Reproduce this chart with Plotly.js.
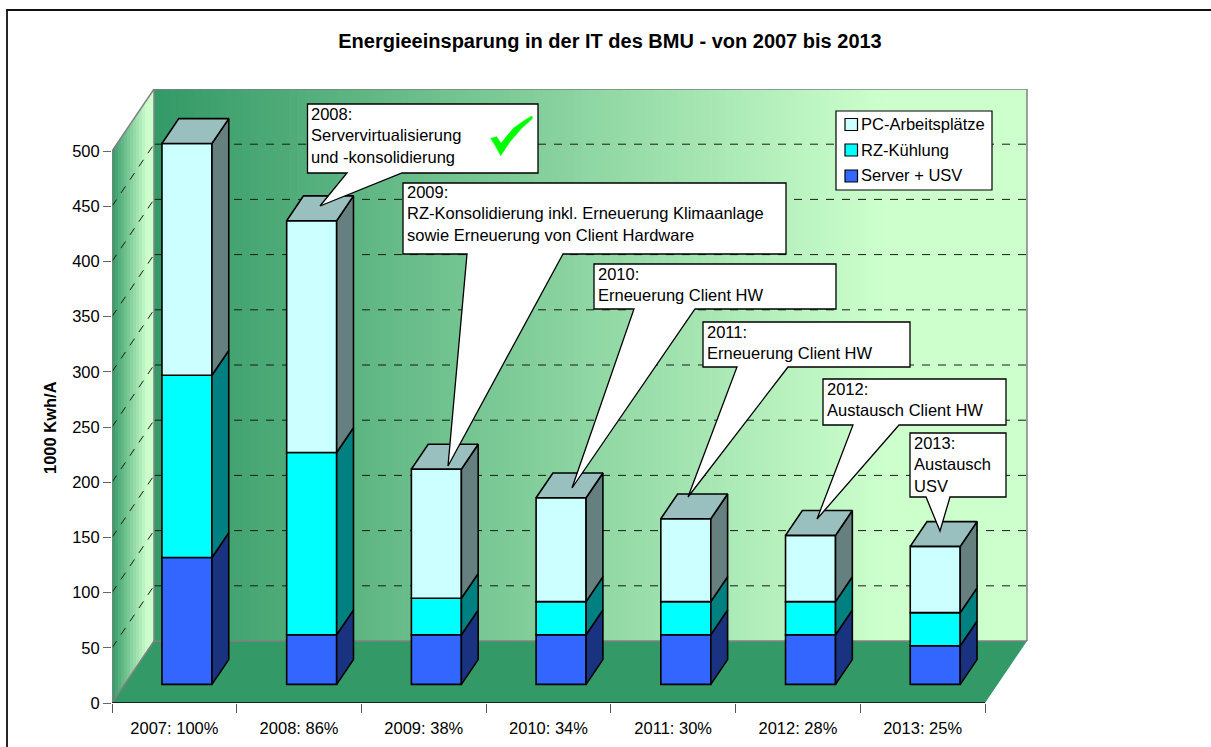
<!DOCTYPE html>
<html><head><meta charset="utf-8">
<script src="https://cdn.plot.ly/plotly-3.0.0.min.js"></script>
<style>html,body{margin:0;padding:0;background:#fff}#chart{width:1211px;height:747px}</style>
</head><body><div id="chart"></div>
<script>
const categories = ['2007: 100%','2008: 86%','2009: 38%','2010: 34%','2011: 30%','2012: 28%','2013: 25%'];
const serverValues = [115, 45, 45, 45, 45, 45, 35];
const kuehlungValues = [165, 165, 33, 30, 30, 30, 30];
const pcValues = [210, 210, 117, 94, 75, 60, 60];
const yTicks = [0,50,100,150,200,250,300,350,400,450,500];
const seriesNames = ['Server + USV','RZ-Kühlung','PC-Arbeitsplätze'];
const frontColors = ['#3366FF','#00FFFF','#CCFFFF'];
const sideColors = ['#1A3380','#008080','#668080'];
const topColor = '#99BFBF';
const callouts = [
 {t:'2008:<br>Servervirtualisierung<br>und -konsolidierung', box:[307.5,104,538,173], tail:[347,402], tip:[320,206]},
 {t:'2009:<br>RZ-Konsolidierung inkl. Erneuerung Klimaanlage<br>sowie Erneuerung von Client Hardware', box:[403,183,786,254], tail:[467,563], tip:[448,466]},
 {t:'2010:<br>Erneuerung Client HW', box:[594,264,836,309], tail:[634,695], tip:[572,488]},
 {t:'2011:<br>Erneuerung Client HW', box:[703,322,910,367], tail:[737,788], tip:[688,497]},
 {t:'2012:<br>Austausch Client HW', box:[823,379,1006,425], tail:[853,899], tip:[817,519]},
 {t:'2013:<br>Austausch<br>USV', box:[910,433,1006,497], tail:[926,950], tip:[940,531]}
];
const checkMark = [[490.7,138.3],[496.7,136.7],[501,143.3],[513.3,128.3],[525,120],[531.7,116],[532.7,118.3],[521.7,128.3],[510,141.7],[500.7,155.7],[496.7,148.3]];

// plot frame and scale
const L=112,R=1028,T=89,B=703, W=1211,H=747;
const catPx=873/7, valPx=552/500;
const xMin=-0.5, xMax=xMin+(R-L)/catPx, yMax=(B-T)/valPx;
const DX=42/catPx, DY=62/valPx;              // depth of the floor
const shiftX=.3*DX, lift=.3*DY;              // bar front plane
const bx=.4*DX, by=.4*DY;                    // bar depth
const barW=50/catPx;
const px=v=>(v-L)/(R-L), py=v=>(B-v)/(B-T);
const gradEnd=.835;
const mix=f=>{const g=Math.min(1,f/gradEnd),a=[0x33,0x99,0x66],b=[0xCC,0xFF,0xCC];return 'rgb('+a.map((c,i)=>Math.round(c+(b[i]-c)*g)).join(',')+')';};
const shapes=[];
const dataShape=(path,fill,line)=>shapes.push({type:'path',xref:'x',yref:'y',layer:'below',path,fillcolor:fill,line:line||{width:0}});
const paperPath=pts=>'M'+pts.map(p=>px(p[0]).toFixed(5)+' '+py(p[1]).toFixed(5)).join('L')+'Z';

// floor
const x0=xMin,x1=xMin+7;
dataShape(`M${x0} 0L${x0+DX} ${DY}L${x1+DX} ${DY}L${x1} 0Z`,'#339966');
// back wall gradient
const nBack=110, x0b=x0+DX, wBack=7;
for(let i=0;i<nBack;i++){const a=x0b+wBack*i/nBack,b=Math.min(x0b+wBack,x0b+wBack*(i+1.15)/nBack);
  dataShape(`M${a} ${DY}L${b} ${DY}L${b} ${yMax}L${a} ${yMax}Z`,mix((i+.5)/nBack));}
// left wall gradient
const nLeft=14;
for(let i=0;i<nLeft;i++){const f=i/nLeft,g=Math.min(1,(i+1.2)/nLeft);
  dataShape(`M${x0+f*DX} ${f*DY}L${x0+g*DX} ${g*DY}L${x0+g*DX} ${500+g*DY}L${x0+f*DX} ${500+f*DY}Z`,mix((i+.5)/nLeft));}
// dashed grid lines
const gridLine={color:'#1a1a1a',width:1,dash:'8px,8px'};
yTicks.slice(1,-1).forEach(v=>{
  dataShape(`M${x0+DX} ${v+DY}L${x0+DX+wBack} ${v+DY}`,'rgba(0,0,0,0)',gridLine);
  dataShape(`M${x0} ${v}L${x0+DX} ${v+DY}`,'rgba(0,0,0,0)',gridLine);
});
// wall edges
const edge={color:'#808080',width:1.5};
dataShape(`M${x0} 500L${x0+DX} ${yMax}L${x0+DX+wBack} ${yMax}L${x0+DX+wBack} ${DY}`,'rgba(0,0,0,0)',edge);
dataShape(`M${x0+DX} ${yMax}L${x0+DX} ${DY}`,'rgba(0,0,0,0)',edge);
dataShape(`M${x0} 0L${x0+DX} ${DY}L${x0+DX+wBack} ${DY}`,'rgba(0,0,0,0)',edge);
dataShape(`M${x0} 0L${x0} 500`,'rgba(0,0,0,0)',edge);
dataShape(`M${x0} 0L${x1} 0`,'rgba(0,0,0,0)',{color:'#000',width:1.5});

// bars
const traces=[];
const valueSets=[serverValues,kuehlungValues,pcValues];
const cum=categories.map(()=>0);
const xIdx=categories.map((c,i)=>i);
valueSets.forEach((vals,s)=>{
  const bases=vals.map((v,i)=>cum[i]+lift);
  traces.push({type:'bar',name:seriesNames[s],x:xIdx.map(i=>i+shiftX),y:vals,base:bases,width:barW,
    marker:{color:frontColors[s],line:{color:'#000',width:1.6}},showlegend:false,
    textposition:'none',hoverinfo:'name+y'});
  vals.forEach((v,i)=>{
    const r=i+shiftX+barW/2, b=bases[i], t=b+v;
    traces.push({type:'scatter',mode:'lines',x:[r,r+bx,r+bx,r,r],y:[b,b+by,t+by,t,b],fill:'toself',fillcolor:sideColors[s],
      line:{color:'#000',width:1.6},hoverinfo:'skip',showlegend:false});
    cum[i]+=v;
  });
});
categories.forEach((c,i)=>{
  const l=i+shiftX-barW/2, r=i+shiftX+barW/2, t=cum[i]+lift;
  traces.push({type:'scatter',mode:'lines',x:[l,r,r+bx,l+bx,l],y:[t,t,t+by,t+by,t],fill:'toself',fillcolor:topColor,
    line:{color:'#000',width:1.6},hoverinfo:'skip',showlegend:false});
});

// annotations & top layer shapes
const textFont={family:'Liberation Sans, Arial, sans-serif',size:16.5,color:'#000'};
const anns=[];
callouts.forEach(c=>{
  const [l,t,r,b]=c.box;
  shapes.push({type:'path',xref:'paper',yref:'paper',layer:'above',
    path:paperPath([[l,t],[r,t],[r,b],[c.tail[1],b],c.tip,[c.tail[0],b],[l,b]]),fillcolor:'#fff',line:{color:'#000',width:1.3}});
  anns.push({xref:'paper',yref:'paper',x:px(l+2.5),y:py(t-0.5),xanchor:'left',yanchor:'top',align:'left',showarrow:false,borderpad:0,text:c.t,font:textFont});
});
shapes.push({type:'path',xref:'paper',yref:'paper',layer:'above',path:paperPath(checkMark),fillcolor:'#00FF00',line:{color:'#00FF00',width:.5}});
// legend box
shapes.push({type:'rect',xref:'paper',yref:'paper',layer:'above',x0:px(836),x1:px(992),y0:py(190),y1:py(111),fillcolor:'#fff',line:{color:'#000',width:1.2}});
const legendRows=[[2,124.5],[1,150],[0,176]];
legendRows.forEach(([s,y])=>{
  shapes.push({type:'rect',xref:'paper',yref:'paper',layer:'above',x0:px(845),x1:px(857.5),y0:py(y+6),y1:py(y-6),fillcolor:frontColors[s],line:{color:'#000',width:1.2}});
  anns.push({xref:'paper',yref:'paper',x:px(859.5),y:py(y-0.5),xanchor:'left',yanchor:'middle',showarrow:false,borderpad:0,text:seriesNames[s],font:textFont});
});
// outer frame
shapes.push({type:'path',xref:'paper',yref:'paper',layer:'above',path:'M'+px(7)+' '+py(800)+'L'+px(7)+' '+py(10)+'L'+px(1215)+' '+py(10),fillcolor:'rgba(0,0,0,0)',line:{color:'#111',width:1.8}});
// y title
anns.push({xref:'paper',yref:'paper',x:px(50),y:py(427),xanchor:'center',yanchor:'middle',textangle:-90,showarrow:false,text:'<b>1000 Kwh/A</b>',font:{family:textFont.family,size:16.5,color:'#000'}});

const tickFont={family:textFont.family,size:16.5,color:'#000'};
const layout={
  width:W,height:H,margin:{l:L,r:W-R,t:T,b:H-B,pad:0},paper_bgcolor:'#fff',plot_bgcolor:'rgba(0,0,0,0)',showlegend:false,barmode:'overlay',
  title:{text:'<b>Energieeinsparung in der IT des BMU - von 2007 bis 2013</b>',font:{family:textFont.family,size:20,color:'#000'},x:610/W,xref:'container',xanchor:'center',y:1-41/H,yref:'container',yanchor:'middle'},
  xaxis:{type:'linear',range:[xMin,xMax],tickmode:'array',tickvals:xIdx,ticktext:categories,ticks:'',showgrid:false,zeroline:false,showline:false,tickfont:tickFont,ticklabelstandoff:13,
    minor:{tickmode:'array',tickvals:categories.map((c,i)=>i-.5).concat([6.5]),ticks:'outside',ticklen:9,tickwidth:1.3,tickcolor:'#555',showgrid:false}},
  yaxis:{range:[0,yMax],tickmode:'array',tickvals:yTicks,ticktext:yTicks.map(String),ticks:'outside',ticklen:8,tickwidth:1.3,tickcolor:'#666',showgrid:false,zeroline:false,showline:false,tickfont:tickFont},
  shapes,annotations:anns
};
Plotly.newPlot('chart',traces,layout,{displayModeBar:false,responsive:false});
</script></body></html>
